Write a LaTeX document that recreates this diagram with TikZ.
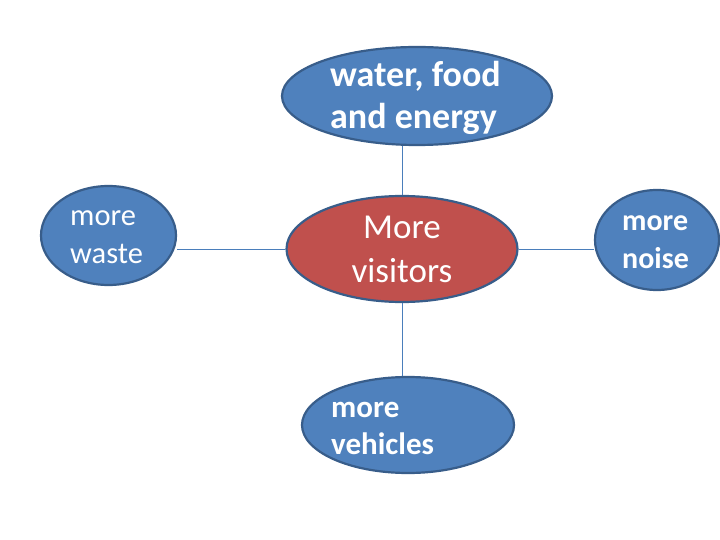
\documentclass[tikz,border=0pt]{standalone}
\usepackage{fontspec}
\setmainfont{Carlito}
\usetikzlibrary{shapes.geometric}
\definecolor{bluefill}{HTML}{4F81BD}
\definecolor{bluedraw}{HTML}{385D8A}
\definecolor{redfill}{HTML}{C0504D}
\definecolor{linkcol}{HTML}{4A7EBB}
\newcommand\twolines[3]{\vtop{\baselineskip=#1\hbox{#2}\hbox{#3}}}
\newcommand\twolinesc[3]{\vtop{\baselineskip=#1\hbox to 0pt{\hss #2\hss}\hbox to 0pt{\hss #3\hss}}}
\tikzset{
  bubble/.style={ellipse, draw=bluedraw, line width=2.2bp, fill=bluefill, inner sep=0pt},
  hub/.style={ellipse, draw=bluedraw, line width=2.2bp, fill=redfill, inner sep=0pt},
  label/.style={text=white, inner sep=0pt, anchor=base west},
  link/.style={draw=linkcol, line width=0.8bp}
}
\begin{document}
\begin{tikzpicture}[x=1bp,y=-1bp]
\useasboundingbox[fill=white] (0,0) rectangle (720,540);
% ellipses
\node[bubble, minimum width=270bp, minimum height=98bp] (top) at (417,96) {};
\node[bubble, minimum width=135bp, minimum height=99bp] (left) at (108.5,235.5) {};
\node[hub, minimum width=231bp, minimum height=106bp] (center) at (402,249) {};
\node[bubble, minimum width=124bp, minimum height=100bp] (right) at (657,240) {};
\node[bubble, minimum width=212bp, minimum height=96bp] (bottom) at (408,425) {};
% connectors
\draw[link] (center.north) -- (center.north |- top.south);
\draw[link] (center.west) -- (center.west -| left.east);
\draw[link] (center.east) -- (center.east -| right.west);
\draw[link] (center.south) -- (center.south |- bottom.north);
% texts
\node[label] (ttop) at (330,87) {\fontsize{36bp}{43bp}\selectfont\bfseries\twolines{42bp}{water, food}{and energy}};
\node[label] (tleft) at (70,226) {\fontsize{30.5bp}{38bp}\selectfont\twolines{38bp}{more}{waste}};
\node[label, anchor=base] (tcenter) at (402,239) {\fontsize{35bp}{43bp}\selectfont\twolinesc{44bp}{More}{visitors}};
\node[label] (tright) at (622,231) {\fontsize{30bp}{38bp}\selectfont\bfseries\twolines{38bp}{more}{noise}};
\node[label] (tbottom) at (331,417) {\fontsize{31bp}{38bp}\selectfont\bfseries\twolines{37bp}{more}{vehicles}};
\end{tikzpicture}
\end{document}
